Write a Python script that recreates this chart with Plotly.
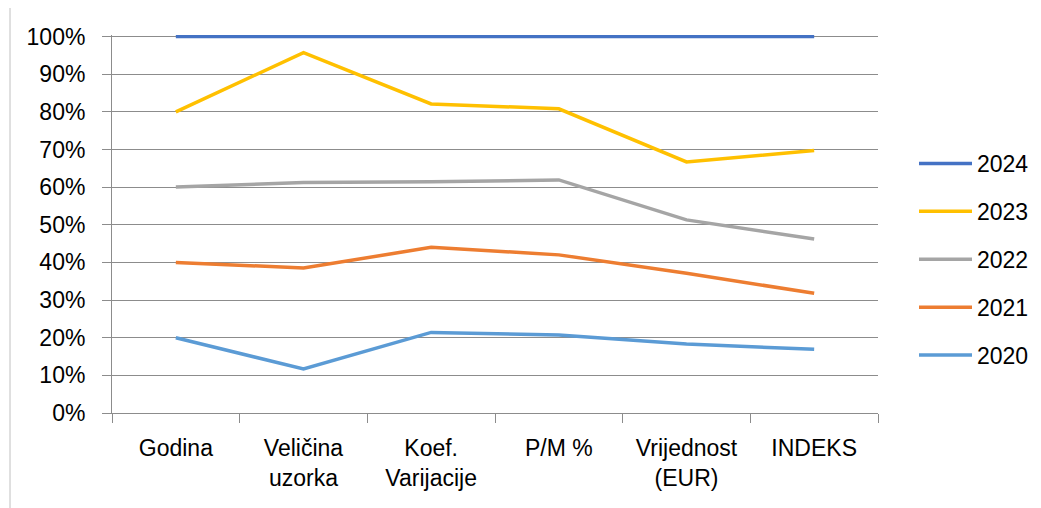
import plotly.graph_objects as go

categories = ["Godina", "Veličina<br>uzorka", "Koef.<br>Varijacije", "P/M %", "Vrijednost<br>(EUR)", "INDEKS"]

s2024 = [100, 100, 100, 100, 100, 100]
s2023 = [80, 95.7, 82.1, 80.8, 66.7, 69.7]
s2022 = [60, 61.2, 61.4, 61.9, 51.3, 46.2]
s2021 = [40, 38.5, 44.0, 42.0, 37.1, 31.8]
s2020 = [20, 11.7, 21.4, 20.7, 18.3, 16.9]

series_names = ["2024", "2023", "2022", "2021", "2020"]
series_values = [s2024, s2023, s2022, s2021, s2020]
colors = ["#4472C4", "#FFC000", "#A5A5A5", "#ED7D31", "#5B9BD5"]

FONT = "Liberation Sans"
FS = 23

fig = go.Figure()
for name, vals, col in zip(series_names, series_values, colors):
    fig.add_trace(go.Scatter(
        x=categories, y=vals, name=name, mode="lines",
        line=dict(color=col, width=3.5),
        legendgroup=name,
    ))

# page body has an 8px margin: screen px = figure px + 8
OFF = 8
W, H = 1041 - OFF, 508 - OFF
L = 112 - OFF
T = 35 - OFF
B = H - (413 - OFF)
R = W - (878 - OFF)
ph = H - T - B
pw = W - L - R

def px_to_paper_x(px):
    return (px - OFF - L) / pw

def px_to_paper_y(py):
    return (H - B - (py - OFF)) / ph

fig.update_layout(
    width=W, height=H,
    margin=dict(l=L, r=R, t=T, b=B, autoexpand=False),
    paper_bgcolor="white", plot_bgcolor="white",
    font=dict(family=FONT, size=FS, color="#000000"),
    showlegend=True,
    legend=dict(
        x=px_to_paper_x(914), y=px_to_paper_y(259.5),
        xanchor="left", yanchor="middle",
        traceorder="grouped", tracegroupgap=15,
        itemwidth=53,
        font=dict(family=FONT, size=FS, color="#000000"),
        bgcolor="rgba(0,0,0,0)",
    ),
    xaxis=dict(
        type="category", showgrid=False, range=[-0.5, 5.5],
        showline=True, linecolor="#8c8c8c", linewidth=1,
        ticks="outside", tickson="boundaries", ticklen=9, tickcolor="#8c8c8c", tickwidth=1,
        ticklabelstandoff=14,
        tickfont=dict(family=FONT, size=FS, color="#000000"),
        fixedrange=True,
    ),
    yaxis=dict(
        range=[0, 100.4], dtick=10, tick0=0, ticksuffix="%",
        showgrid=True, gridcolor="#8c8c8c", gridwidth=1,
        showline=True, linecolor="#8c8c8c", linewidth=1,
        ticks="outside", ticklen=9, tickcolor="#8c8c8c", tickwidth=1,
        ticklabelstandoff=12,
        zeroline=False,
        tickfont=dict(family=FONT, size=FS, color="#000000"),
        fixedrange=True,
    ),
    shapes=[dict(
        type="rect", xref="paper", yref="paper",
        x0=px_to_paper_x(10), x1=px_to_paper_x(1070),
        y0=px_to_paper_y(540), y1=px_to_paper_y(7),
        line=dict(color="#c0c0c0", width=1), fillcolor="rgba(0,0,0,0)",
        layer="below",
    )],
)

fig.write_html("out.html")
